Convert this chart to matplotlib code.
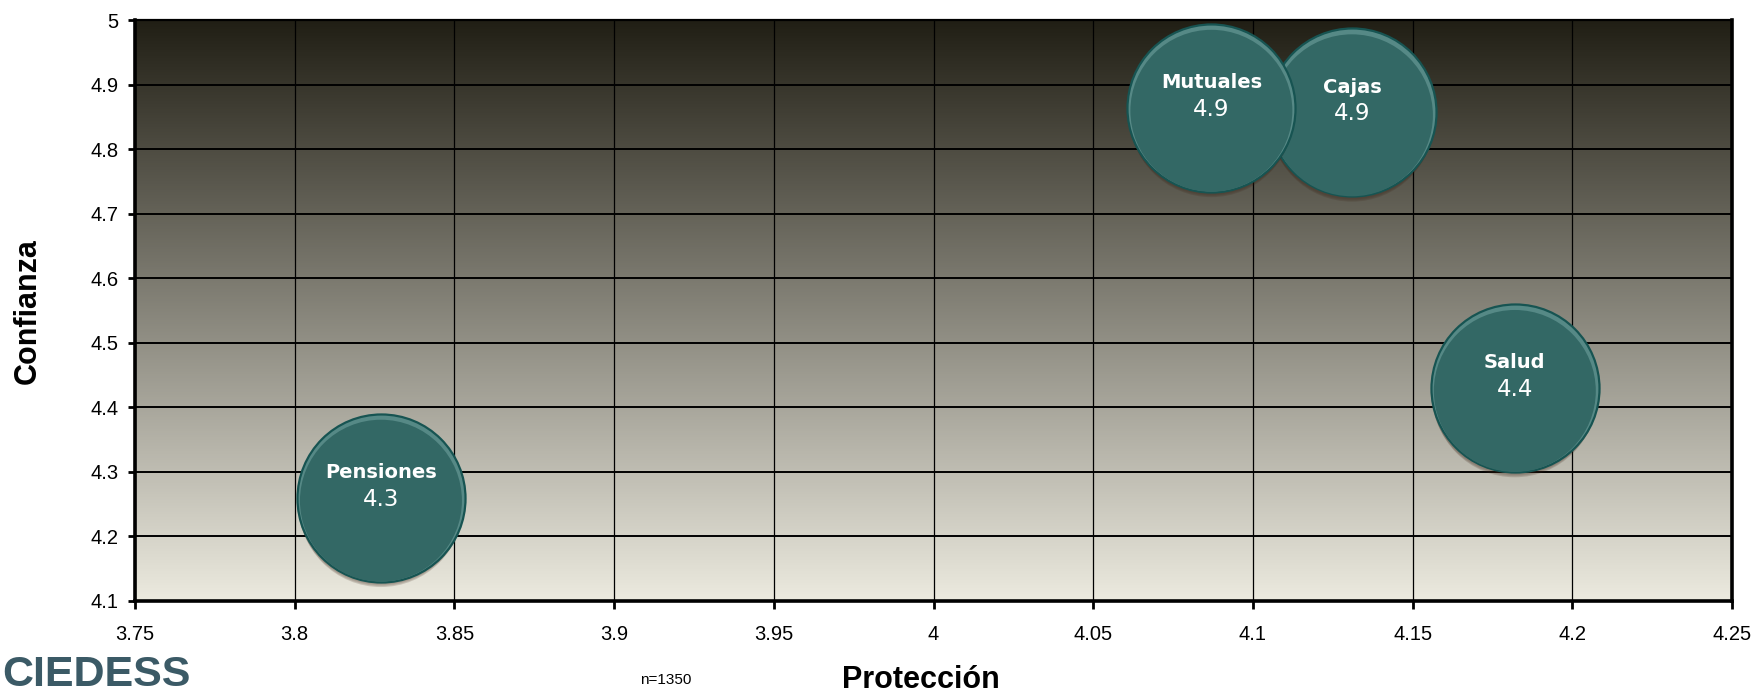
import matplotlib.pyplot as plt
import numpy as np
from matplotlib.colors import LinearSegmentedColormap
from matplotlib.transforms import offset_copy

# ===================== data =====================
names = ['Pensiones', 'Cajas', 'Mutuales', 'Salud']
proteccion = [3.827, 4.131, 4.087, 4.182]
confianza = [4.26, 4.857, 4.864, 4.43]
value_labels = ['4.3', '4.9', '4.9', '4.4']

x_ticks = [3.75, 3.8, 3.85, 3.9, 3.95, 4.0, 4.05, 4.1, 4.15, 4.2, 4.25]
x_tick_labels = ['3.75', '3.8', '3.85', '3.9', '3.95', '4', '4.05', '4.1', '4.15', '4.2', '4.25']
y_ticks = [4.1, 4.2, 4.3, 4.4, 4.5, 4.6, 4.7, 4.8, 4.9, 5.0]
y_tick_labels = ['4.1', '4.2', '4.3', '4.4', '4.5', '4.6', '4.7', '4.8', '4.9', '5']

plt.rcParams['font.family'] = ['Liberation Sans', 'DejaVu Sans']

fig = plt.figure(figsize=(17.56, 6.92), dpi=100)
ax = fig.add_axes([135 / 1756, 1 - 601 / 692, (1732 - 135) / 1756, (601 - 20) / 692])

# background gradient (dark top -> light bottom)
cmap = LinearSegmentedColormap.from_list('bg', ['#eceadf', '#211f15'])
grad = np.linspace(0, 1, 256).reshape(-1, 1)
ax.imshow(grad, cmap=cmap, aspect='auto', origin='lower', extent=[0, 1, 0, 1],
          transform=ax.transAxes, zorder=-1)

ax.set_xlim(3.75, 4.25)
ax.set_ylim(4.1, 5.0)
ax.set_xticks(x_ticks)
ax.set_xticklabels(x_tick_labels)
ax.set_yticks(y_ticks)
ax.set_yticklabels(y_tick_labels)

ax.set_axisbelow(True)
ax.grid(axis='y', color='black', linewidth=1.4)
ax.grid(axis='x', color='black', linewidth=0.9)

for side in ['left', 'bottom', 'right']:
    ax.spines[side].set_linewidth(2.6)
ax.spines['top'].set_linewidth(1.6)

ax.tick_params(axis='y', direction='out', length=5, width=2, labelsize=14.5, pad=7)
ax.tick_params(axis='x', direction='out', length=6, width=2, labelsize=14.5, pad=11)

# ===================== bubbles =====================
size_main = 14640
size_inner = 13600
for i in range(len(names)):
    xi, yi = proteccion[i], confianza[i]
    z = 3 + i * 0.1
    # soft brown shadow
    for k, a in enumerate([0.12, 0.14, 0.18]):
        tr = offset_copy(ax.transData, fig=fig, x=0, y=-(3 + 2 * k), units='dots')
        ax.scatter(xi, yi, s=size_main * (1.0 - 0.02 * k), color='#3a2214', alpha=a,
                   edgecolors='none', transform=tr, zorder=z)
    # outer disc with lighter rim at top
    ax.scatter(xi, yi, s=size_main, color='#568986', edgecolors='#175452',
               linewidths=1.6, zorder=z + 0.01)
    # inner body
    tr = offset_copy(ax.transData, fig=fig, x=0, y=-3, units='dots')
    ax.scatter(xi, yi, s=size_inner, color='#336865', edgecolors='none',
               transform=tr, zorder=z + 0.02)
    ax.annotate(names[i], (xi, yi), xytext=(0, 18), textcoords='offset points',
                ha='center', va='center', color='white', fontsize=14,
                fontweight='bold', family='DejaVu Sans', zorder=z + 0.03)
    ax.annotate(value_labels[i], (xi, yi), xytext=(0, -1), textcoords='offset points',
                ha='center', va='center', color='white', fontsize=16.5,
                family='DejaVu Sans', zorder=z + 0.03)

# ===================== texts =====================
fig.text(921 / 1756, 1 - 680 / 692, 'Protección', ha='center', va='center',
         fontsize=22, fontweight='bold')
fig.text(28 / 1756, 1 - 311 / 692, 'Confianza', ha='center', va='center',
         rotation=90, fontsize=22, fontweight='bold')
fig.text(666 / 1756, 1 - 680 / 692, 'n=1350', ha='center', va='center', fontsize=11)
fig.text(2 / 1756, 1 - 675 / 692, 'CIEDESS', ha='left', va='center',
         fontsize=31, fontweight='bold', color='#3b5a66')

plt.savefig('out.png', dpi=100)
